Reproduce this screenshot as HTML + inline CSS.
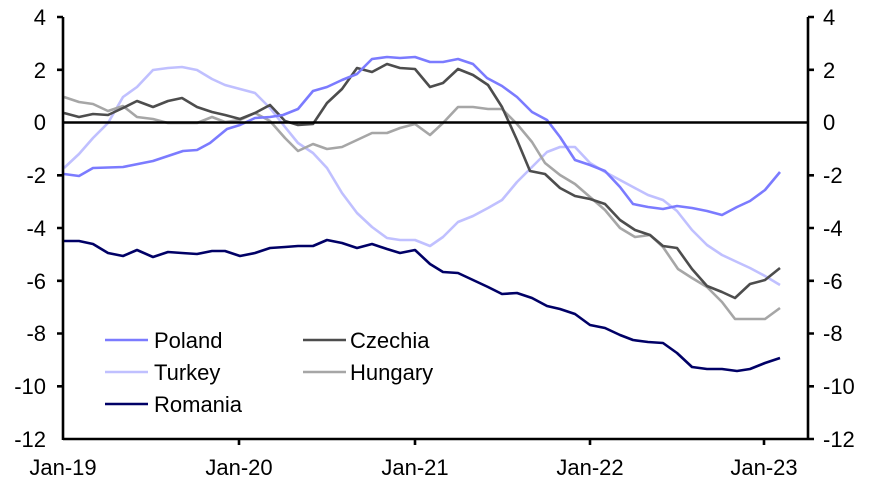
<!DOCTYPE html>
<html><head><meta charset="utf-8"><style>
html,body{margin:0;padding:0;background:#fff;}
svg text{font-family:"Liberation Sans",Arial,sans-serif;font-size:22px;fill:#000;}
</style></head><body>
<svg width="877" height="482" viewBox="0 0 877 482" xmlns="http://www.w3.org/2000/svg">
<g fill="none" stroke-width="2.6" stroke-linejoin="round">
<polyline stroke="#c0c0ff" points="64,168 79,154 93,138 108,123 123,97 137,87 153,70 168,68 182,67 197,70 212,79 225,85 240,89 255,93 270,108 285,127 298,143 313,153 327,168 342,193 357,213 372,227 387,238 400,240 415,240 430,246 443,237 458,222 473,216 488,208 502,200 517,182 532,167 547,152 560,147 575,147 590,163 605,172 620,180 633,187 648,195 663,200 677,211 692,230 707,245 722,255 737,262 750,268 765,276 780,285"/>
<polyline stroke="#a6a6a6" points="64,97 79,102 93,104 108,111 123,106 137,117 153,119 168,123 182,123 197,123 212,117 225,122 240,120 255,113 270,121 285,138 298,151 313,144 327,149 342,147 357,140 372,133 387,133 400,128 415,124 430,135 443,123 458,107 473,107 488,109 502,109 517,124 532,142 545,163 560,175 575,184 590,197 605,210 620,228 635,237 650,235 663,247 678,269 692,278 707,287 722,302 735,319 750,319 765,319 780,308"/>
<polyline stroke="#4d4d4d" points="64,113 79,117 93,114 108,115 123,108 137,101 153,107 168,101 182,98 197,107 212,112 225,115 240,119 255,113 270,105 285,121 298,125 313,124 327,103 342,89 357,68 372,72 387,64 400,68 415,69 430,87 443,83 458,69 473,75 488,85 502,107 517,140 530,171 545,174 560,188 575,196 590,199 605,204 620,220 635,230 650,235 663,246 677,248 692,269 707,286 722,292 735,298 750,284 765,280 780,268"/>
<polyline stroke="#7b7bff" points="64,174 79,176 93,168 123,167 153,161 183,151 197,150 210,143 227,129 240,125 255,118 270,117 283,115 298,109 313,91 327,87 342,80 357,74 372,59 387,57 400,58 415,57 430,62 443,62 458,59 473,64 487,78 502,86 517,97 532,112 547,120 560,137 575,160 590,165 605,171 620,187 633,204 648,207 663,209 677,206 692,208 707,211 722,215 737,207 750,201 765,190 780,172"/>
<polyline stroke="#000066" points="64,241 79,241 93,244 108,253 123,256 137,250 153,257 168,252 182,253 197,254 212,251 225,251 240,256 255,253 270,248 285,247 298,246 313,246 327,240 342,243 357,248 372,244 387,249 400,253 415,250 430,264 443,272 458,273 473,280 488,287 502,294 517,293 532,298 547,306 560,309 575,314 590,325 605,328 620,335 633,340 648,342 663,343 677,353 692,367 707,369 722,369 737,371 750,369 765,363 780,358"/>
</g>
<g stroke="#000" stroke-width="2.6" fill="none">
<line x1="63" y1="122.5" x2="808" y2="122.5"/>
<line x1="63" y1="17" x2="63" y2="440"/>
<line x1="808" y1="17" x2="808" y2="440"/>
<line x1="63" y1="439" x2="808" y2="439"/>
<path d="M57,17H63M57,69.8H63M57,175.3H63M57,228H63M57,280.8H63M57,333.5H63M57,386.3H63"/>
<path d="M808,17H814M808,69.8H814M808,175.3H814M808,228H814M808,280.8H814M808,333.5H814M808,386.3H814M808,439H814"/>
<path d="M239,439V445M415,439V445M590,439V445M764,439V445"/>
</g>
<g text-anchor="end">
<text x="46" y="25">4</text><text x="46" y="78">2</text><text x="46" y="130">0</text><text x="46" y="183">-2</text><text x="46" y="236">-4</text><text x="46" y="289">-6</text><text x="46" y="341">-8</text><text x="46" y="394">-10</text><text x="46" y="447">-12</text>
</g>
<g text-anchor="start">
<text x="823" y="25">4</text><text x="823" y="78">2</text><text x="823" y="130">0</text><text x="823" y="183">-2</text><text x="823" y="236">-4</text><text x="823" y="289">-6</text><text x="823" y="341">-8</text><text x="823" y="394">-10</text><text x="823" y="447">-12</text>
</g>
<g text-anchor="middle">
<text x="63" y="475">Jan-19</text><text x="239" y="475">Jan-20</text><text x="415" y="475">Jan-21</text><text x="590" y="475">Jan-22</text><text x="764" y="475">Jan-23</text>
</g>
<g stroke-width="2.6">
<line x1="105" y1="340" x2="148" y2="340" stroke="#7b7bff"/>
<line x1="303" y1="340" x2="346" y2="340" stroke="#4d4d4d"/>
<line x1="105" y1="372" x2="148" y2="372" stroke="#c0c0ff"/>
<line x1="303" y1="372" x2="346" y2="372" stroke="#a6a6a6"/>
<line x1="105" y1="404" x2="148" y2="404" stroke="#000066"/>
</g>
<text x="154" y="348">Poland</text><text x="350" y="348">Czechia</text>
<text x="154" y="380">Turkey</text><text x="350" y="380">Hungary</text>
<text x="154" y="412">Romania</text>
</svg>
</body></html>
